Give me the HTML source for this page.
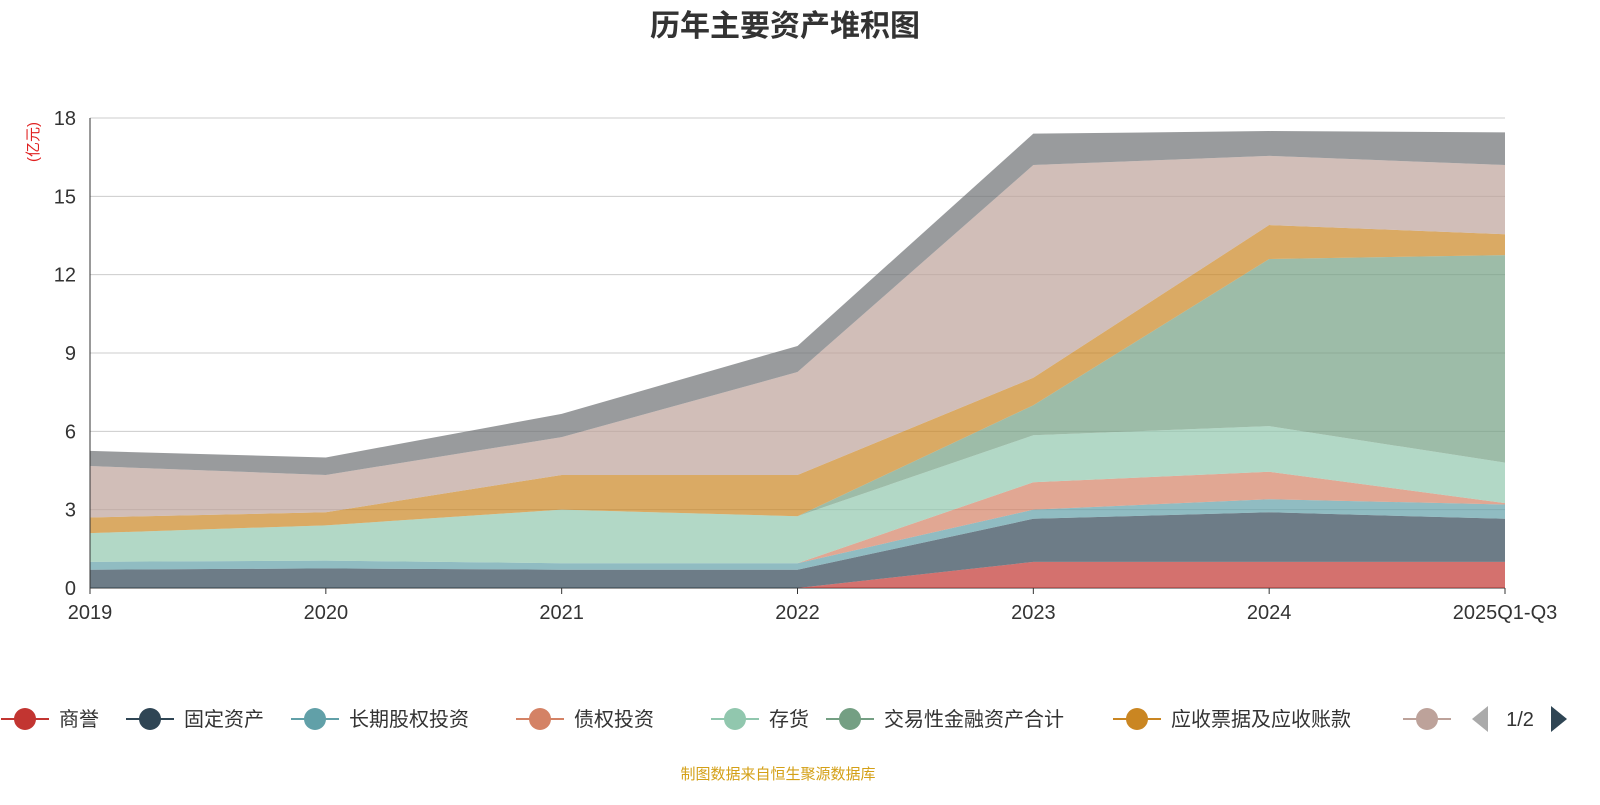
<!DOCTYPE html>
<html><head><meta charset="utf-8"><style>
body{margin:0;background:#fff;width:1600px;height:800px;overflow:hidden;font-family:"Liberation Sans","Noto Sans CJK SC",sans-serif;}
</style></head><body>
<svg id="chart" width="1600" height="800" xmlns="http://www.w3.org/2000/svg">
<text x="785" y="36" text-anchor="middle" font-size="30" font-weight="bold" fill="#333" font-family="Liberation Sans,Noto Sans CJK SC,sans-serif">历年主要资产堆积图</text>
<text x="38" y="142" transform="rotate(-90 38 142)" text-anchor="middle" font-size="15" fill="#e02020" font-family="Liberation Sans,Noto Sans CJK SC,sans-serif">(亿元)</text>
<g id="grid"></g><g id="areas"></g><g id="axes"></g><g id="legend"></g>
<text x="778" y="779" text-anchor="middle" font-size="15" fill="#d4a017" font-family="Liberation Sans,Noto Sans CJK SC,sans-serif">制图数据来自恒生聚源数据库</text>
</svg>
<script>
const categories=["2019","2020","2021","2022","2023","2024","2025Q1-Q3"];
const seriesNames=["商誉","固定资产","长期股权投资","债权投资","存货","交易性金融资产合计","应收票据及应收账款","其他"];
const s_goodwill=[0,0,0,0,1.0,1.0,1.0];
const s_fixed=[0.7,0.75,0.7,0.7,1.65,1.9,1.65];
const s_lte=[0.3,0.3,0.25,0.25,0.35,0.5,0.55];
const s_debt=[0,0,0,0,1.05,1.05,0.05];
const s_inventory=[1.1,1.35,2.05,1.8,1.8,1.75,1.55];
const s_trading=[0,0,0,0,1.15,6.4,7.95];
const s_receivable=[0.6,0.5,1.33,1.58,1.05,1.3,0.8];
const s_other=[1.97,1.43,1.45,3.94,8.15,2.65,2.65];
const s_rest=[0.58,0.67,0.89,1.0,1.2,0.95,1.25];
const yTicks=[0,3,6,9,12,15,18];
const seriesData=[s_goodwill,s_fixed,s_lte,s_debt,s_inventory,s_trading,s_receivable,s_other,s_rest];
const colors=["#c23531","#2f4554","#61a0a8","#d48265","#91c7ae","#749f83","#ca8622","#bda29a","#6e7074"];
const NS="http://www.w3.org/2000/svg";
const X0=90,X1=1505,Y0=588,Y1=118,YMAX=18;
const xs=i=>X0+(X1-X0)*i/(categories.length-1);
const ys=v=>Y0-(Y0-Y1)*v/YMAX;
function mk(t,a,p){const e=document.createElementNS(NS,t);for(const k in a)e.setAttribute(k,a[k]);p.appendChild(e);return e;}
const grid=document.getElementById('grid'),axes=document.getElementById('axes'),areas=document.getElementById('areas'),leg=document.getElementById('legend');
yTicks.forEach(t=>{
 const l=mk('line',{x1:X0,x2:X1,y1:ys(t),y2:ys(t),stroke:t===0?'#333':'#ccc','stroke-width':1},grid);
 
 
 const tx=mk('text',{x:X0-14,y:ys(t)+7,'text-anchor':'end','font-size':20,fill:'#333'},axes);
 tx.textContent=t;
 
 
});
let base=categories.map(()=>0);
seriesData.forEach((s,k)=>{
 const top=base.map((b,i)=>b+s[i]);
 let d='M'+categories.map((c,i)=>xs(i)+','+ys(top[i])).join('L');
 for(let i=categories.length-1;i>=0;i--)d+='L'+xs(i)+','+ys(base[i]);
 const p=mk('path',{d:d+'Z',fill:colors[k],'fill-opacity':0.7},areas);
 
 
 base=top;
});
mk('line',{x1:X0,x2:X0,y1:Y1,y2:Y0,stroke:'#333'},axes);
categories.forEach((c,i)=>{
 mk('line',{x1:xs(i),x2:xs(i),y1:Y0,y2:Y0+6,stroke:'#333'},axes);
 const tx=mk('text',{x:xs(i),y:Y0+31,'text-anchor':'middle','font-size':20,fill:'#333'},axes);
 tx.textContent=c;
 
 
});
const lc=[25,150,315,540,735,850,1137,1427];
seriesNames.forEach((n,k)=>{
 const g=mk('g',{},leg);
 
 
 const c=lc[k];
 mk('line',{x1:c-24,x2:c+24,y1:719,y2:719,stroke:colors[k],'stroke-width':2},g);
 mk('circle',{cx:c,cy:719,r:11,fill:colors[k]},g);
 if(k<7){const t=mk('text',{x:c+34,y:726,'font-size':20,fill:'#333'},g);t.textContent=n;}
});
const pg=mk('g',{},leg);


mk('path',{d:'M1488,706L1488,732L1472,719Z',fill:'#aaa'},pg);
const pt=mk('text',{x:1520,y:726,'text-anchor':'middle','font-size':20,fill:'#333'},pg);pt.textContent='1/2';
mk('path',{d:'M1551,706L1551,732L1567,719Z',fill:'#2f4554'},pg);
</script>
</body></html>
